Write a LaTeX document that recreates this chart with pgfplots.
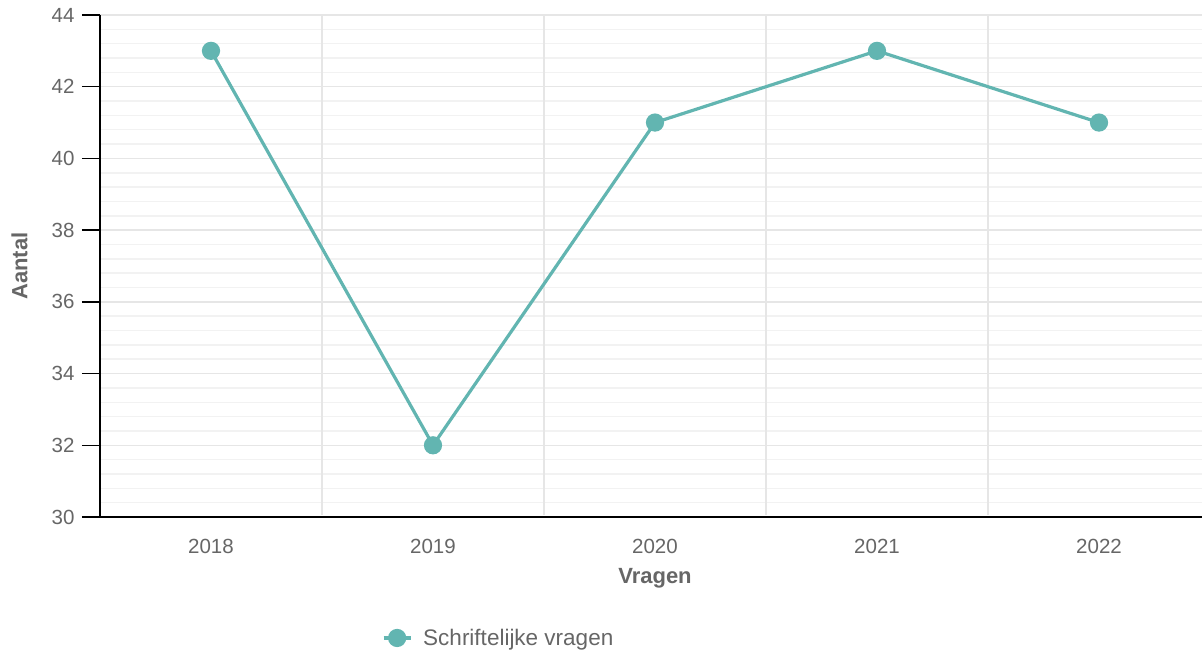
\documentclass[border=0pt]{standalone}
\usepackage{fontspec}
\setmainfont{Liberation Sans}
\usepackage{pgfplots}
\pgfplotsset{compat=1.18}
\definecolor{teal1}{HTML}{62B5B1}
\definecolor{txt}{HTML}{666666}
\definecolor{gmaj}{HTML}{E6E6E6}
\definecolor{gmin}{HTML}{F2F2F2}
\begin{document}
\begin{tikzpicture}[x=1pt,y=1pt]
\path[use as bounding box] (-100,-138) rectangle (1102,517);
\begin{axis}[
  at={(0,0)}, anchor=south west,
  scale only axis, width=1110pt, height=502pt,
  xmin=-0.5, xmax=4.5, ymin=30, ymax=44,
  xtick={0,1,2,3,4},
  xticklabels={2018,2019,2020,2021,2022},
  ytick={30,32,...,44},
  minor y tick num=4,
  ymajorgrids, yminorgrids,
  major grid style={draw=gmaj, line width=1.5pt},
  minor grid style={draw=gmin, line width=1.5pt},
  axis x line*=bottom, axis y line*=left,
  axis line style={black, line width=1.5pt},
  x axis line style={-},
  y axis line style={-},
  xtick style={draw=none},
  ytick style={black, line width=1.5pt},
  tick align=outside,
  major tick length=18pt,
  minor tick length=0pt,
  /pgf/number format/assume math mode=true,
  ticklabel style={font=\fontsize{20.5}{24}\selectfont, text=txt},
  yticklabel style={xshift=-4pt},
  xticklabel style={yshift=-1pt},
  xlabel={Vragen}, ylabel={Aantal},
  label style={font=\bfseries\fontsize{22}{26}\selectfont, text=txt},
  xlabel style={at={(0.5,-0.122)}, anchor=center},
  ylabel style={at={(-0.0725,0.5)}, anchor=center},
  legend style={at={(0.2512,-0.241)}, anchor=west, draw=none, fill=none,
    font=\fontsize{22.5}{26}\selectfont, text=txt},
  legend cell align=left,
  legend image code/.code={%
    \draw[#1, mark=none] (0pt,0pt) -- (27pt,0pt);
    \draw[#1, only marks] plot coordinates {(13.5pt,0pt)};
    \path (36pt,0pt);},
]
\pgfplotsinvokeforeach{0.5,1.5,2.5,3.5}{%
  \draw[gmaj, line width=1.5pt] (axis cs:#1,30.05) -- (axis cs:#1,44);}
\addplot[teal1, line width=3.2pt, mark=*, mark size=7.5pt, mark options={fill=teal1, draw=none}]
  coordinates {(0,43) (1,32) (2,41) (3,43) (4,41)};
\addlegendentry{Schriftelijke vragen}
\end{axis}
\end{tikzpicture}
\end{document}
